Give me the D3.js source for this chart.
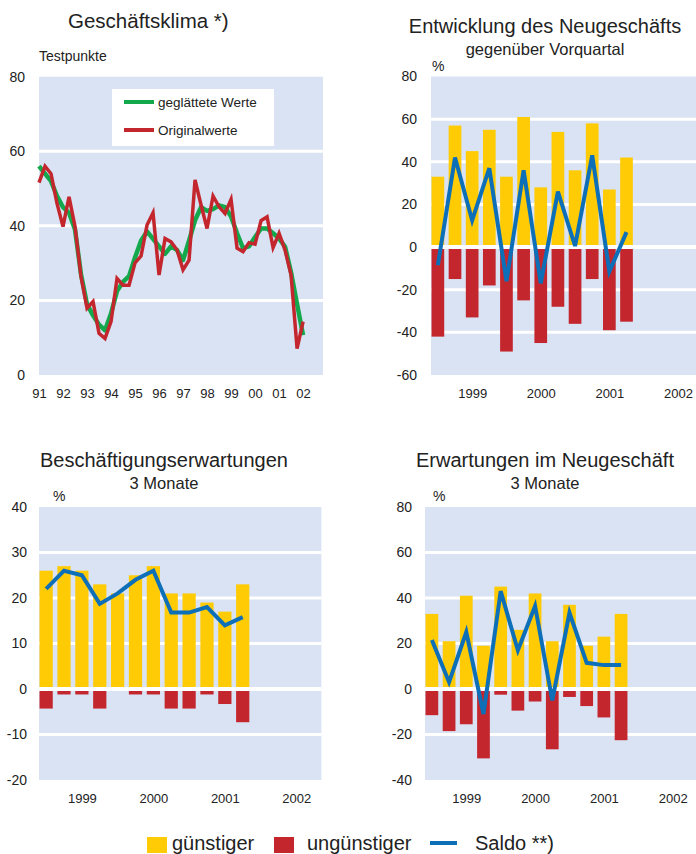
<!DOCTYPE html>
<html>
<head>
<meta charset="utf-8">
<script src="https://cdn.jsdelivr.net/npm/d3@7"></script>
<style>
  body { margin: 0; background: #fff; }
  svg text { font-family: "Liberation Sans", Arial, sans-serif; fill: #222; }
</style>
</head>
<body>
<svg width="696" height="854"></svg>
<script>
// Geschäftsklima, quarterly 1991Q1 .. 2002Q1
const klimaOriginal = [51.6, 56, 54, 46, 39.8, 47.8, 39.8, 26.4, 17.9, 19.7, 11.2, 9.8, 14.3, 25.9, 24.1, 24.1,
  30.1, 31.9, 40.2, 43.5, 26.8, 36.6, 35.7, 33.5, 28.2, 30.8, 52.3, 45.6, 39.3, 48, 45.1, 43.3,
  47.1, 34, 33.1, 35.5, 35.1, 41.4, 42.4, 34.2, 38, 33.5, 26.8, 7.1, 14.3];
const klimaGeglaettet = [56, 54, 52, 48, 45, 43.5, 39, 27, 19, 16, 13.5, 12, 16.5, 22.5, 25, 26.5,
  31.5, 36, 38.5, 36.5, 34.5, 32.5, 34.5, 33.5, 30.8, 36, 41.5, 45, 44, 44.5, 45.5, 45,
  42.5, 38, 34, 34.5, 37, 39.3, 39.3, 38, 36.6, 34.4, 27.5, 19, 10.7];
const klimaJahre = ['91','92','93','94','95','96','97','98','99','00','01','02'];

// quarterly survey panels (12 quarters)
const jahre = ['1999', '2000', '2001', '2002'];

const neuGuenstig = [33, 57, 45, 55, 33, 61, 28, 54, 36, 58, 27, 42];
const neuUnguenstig = [-42, -15, -33, -18, -49, -25, -45, -28, -36, -15, -39, -35];
const neuSaldo = [-8.5, 42, 12.5, 37, -16, 36, -17, 26, 0.5, 43, -11.5, 7];

const beschGuenstig = [26, 27, 26, 23, 21, 25, 27, 21, 21, 19, 17, 23];
const beschUnguenstig = [-4.3, -1.2, -1.2, -4.3, 0, -1.2, -1.2, -4.3, -4.3, -1.2, -3.3, -7.3];
const beschSaldo = [22, 26, 25, 18.7, 21, 24, 26, 16.8, 16.8, 18, 14, 15.8];

const erwGuenstig = [33, 21, 41, 19, 45, 26, 42, 21, 37, 19, 23, 33];
const erwUnguenstig = [-11.5, -18.5, -15.5, -30.5, -2.5, -9.5, -5.5, -26.5, -3.5, -7.5, -12.5, -22.5];
const erwSaldo = [21.5, 3, 25, -11, 43, 17, 36.5, -5, 33.5, 11.5, 10.5, 10.5];

const col = {
  bg: '#d9e3f3', gelb: '#ffcb05', rot: '#c4262e', blau: '#0d6fb8', gruen: '#12a84b'
};

const svg = d3.select('svg');

function hintergrund(g, x0, x1, y) {
  g.append('rect')
    .attr('x', x0).attr('y', y.range()[1])
    .attr('width', x1 - x0).attr('height', y.range()[0] - y.range()[1])
    .attr('fill', col.bg);
}

function gitter(g, x0, x1, y, werte, breite) {
  g.selectAll(null).data(werte).enter().append('line')
    .attr('x1', x0).attr('x2', x1)
    .attr('y1', d => y(d)).attr('y2', d => y(d))
    .attr('stroke', '#fff').attr('stroke-width', breite);
}

function yAchse(g, y, ticks, xPos) {
  const ax = g.append('g')
    .attr('transform', `translate(${xPos},0)`)
    .call(d3.axisLeft(y).tickValues(ticks).tickSize(0).tickPadding(0)
      .tickFormat(d => String(d)));   // plain hyphen like the original
  ax.select('.domain').remove();
  ax.selectAll('text').attr('font-size', 14).attr('fill', '#222')
    .attr('font-family', '"Liberation Sans", Arial, sans-serif');
}

function xAchse(g, x, ticks, labels, yPos) {
  const ax = g.append('g')
    .attr('transform', `translate(0,${yPos})`)
    .call(d3.axisBottom(x).tickValues(ticks).tickSize(0).tickPadding(0)
      .tickFormat((d, i) => labels[i]));
  ax.select('.domain').remove();
  ax.selectAll('text').attr('font-size', 13).attr('fill', '#222')
    .attr('font-family', '"Liberation Sans", Arial, sans-serif');
}

function titel(text, x, y, size) {
  svg.append('text').attr('x', x).attr('y', y)
    .attr('text-anchor', 'middle').attr('font-size', size).text(text);
}

// ---------- Geschäftsklima ----------
{
  const g = svg.append('g');
  const x = d3.scaleLinear().domain([1991, 2002.83]).range([39, 323]);
  const y = d3.scaleLinear().domain([0, 80]).range([375, 76.7]);
  hintergrund(g, 39, 323, y);
  gitter(g, 39, 324, y, [20, 40, 60], 3);
  yAchse(g, y, [0, 20, 40, 60, 80], 25);
  xAchse(g, x, d3.range(1991, 2003), klimaJahre, 389);

  const line = d3.line()
    .x((d, i) => x(1991 + i * 0.25))
    .y(d => y(d));
  g.append('path').datum(klimaGeglaettet).attr('d', line)
    .attr('fill', 'none').attr('stroke', col.gruen).attr('stroke-width', 4.5)
    .attr('stroke-linejoin', 'round');
  g.append('path').datum(klimaOriginal).attr('d', line)
    .attr('fill', 'none').attr('stroke', col.rot).attr('stroke-width', 3.5)
    .attr('stroke-linejoin', 'miter');

  // legend
  g.append('rect').attr('x', 112).attr('y', 89).attr('width', 162).attr('height', 57).attr('fill', '#fff');
  const leg = [['geglättete Werte', col.gruen, 102], ['Originalwerte', col.rot, 130]];
  leg.forEach(([t, c, yy]) => {
    g.append('line').attr('x1', 124).attr('x2', 154).attr('y1', yy).attr('y2', yy)
      .attr('stroke', c).attr('stroke-width', 4);
    g.append('text').attr('x', 158).attr('y', yy + 5).attr('font-size', 13.5).text(t);
  });

  svg.append('text').attr('x', 68).attr('y', 28).attr('font-size', 20.5).text('Geschäftsklima *)');
  svg.append('text').attr('x', 39).attr('y', 61).attr('font-size', 14).text('Testpunkte');
}

// ---------- bar panels ----------
function balkenPanel(opt) {
  const g = svg.append('g');
  const x = d3.scaleLinear().domain([-0.4, 15.4]).range([opt.x0, opt.x0 + 15.8 * opt.step]);
  const y = d3.scaleLinear().domain(opt.yDom).range(opt.yRange);
  const bw = opt.step * 0.74;
  const x1 = Math.min(696, x.range()[1]);

  hintergrund(g, opt.x0, x1, y);
  gitter(g, opt.x0, x1, y, opt.yTicks.filter(d => d !== 0 && d !== opt.yDom[0] && d !== opt.yDom[1]), 3);

  g.selectAll('rect.pos').data(opt.pos).enter().append('rect')
    .attr('class', 'pos')
    .attr('x', (d, i) => x(i) - bw / 2).attr('width', bw)
    .attr('y', d => y(d)).attr('height', d => y(0) - y(d))
    .attr('fill', col.gelb);
  g.selectAll('rect.neg').data(opt.neg).enter().append('rect')
    .attr('class', 'neg')
    .attr('x', (d, i) => x(i) - bw / 2).attr('width', bw)
    .attr('y', y(0)).attr('height', d => y(d) - y(0))
    .attr('fill', col.rot);

  gitter(g, opt.x0, x1, y, [0], 4);

  g.append('path').datum(opt.saldo)
    .attr('d', d3.line().x((d, i) => x(i)).y(d => y(d)))
    .attr('fill', 'none').attr('stroke', col.blau).attr('stroke-width', 4);

  yAchse(g, y, opt.yTicks, opt.yLab);
  xAchse(g, x, [2, 6, 10, 14], jahre, opt.xLab);

  titel(opt.titel, opt.tx, opt.ty, 20);
  titel(opt.sub, opt.tx, opt.ty + 22, 16.5);
  svg.append('text').attr('x', opt.px).attr('y', opt.py).attr('font-size', 14).text('%');
}

balkenPanel({
  x0: 431, step: 17.15, yDom: [-60, 80], yRange: [375, 76.5],
  yTicks: [-60, -40, -20, 0, 20, 40, 60, 80], yLab: 417, xLab: 389,
  pos: neuGuenstig, neg: neuUnguenstig, saldo: neuSaldo,
  titel: 'Entwicklung des Neugeschäfts', sub: 'gegenüber Vorquartal', tx: 545, ty: 33, px: 432, py: 71
});

balkenPanel({
  x0: 39, step: 17.87, yDom: [-20, 40], yRange: [780, 507],
  yTicks: [-20, -10, 0, 10, 20, 30, 40], yLab: 27, xLab: 794,
  pos: beschGuenstig, neg: beschUnguenstig, saldo: beschSaldo,
  titel: 'Beschäftigungserwartungen', sub: '3 Monate', tx: 164, ty: 467, px: 53, py: 501
});

balkenPanel({
  x0: 425, step: 17.2, yDom: [-40, 80], yRange: [780, 507],
  yTicks: [-40, -20, 0, 20, 40, 60, 80], yLab: 412, xLab: 794,
  pos: erwGuenstig, neg: erwUnguenstig, saldo: erwSaldo,
  titel: 'Erwartungen im Neugeschäft', sub: '3 Monate', tx: 545, ty: 467, px: 433, py: 501
});

// ---------- shared legend ----------
{
  const g = svg.append('g').attr('font-size', 20);
  g.append('rect').attr('x', 147).attr('y', 837).attr('width', 20).attr('height', 16).attr('fill', col.gelb);
  g.append('text').attr('x', 172).attr('y', 850).attr('font-size', 20).text('günstiger');
  g.append('rect').attr('x', 274).attr('y', 837).attr('width', 20).attr('height', 16).attr('fill', col.rot);
  g.append('text').attr('x', 307).attr('y', 850).attr('font-size', 20).text('ungünstiger');
  g.append('line').attr('x1', 430).attr('x2', 457).attr('y1', 843).attr('y2', 843)
    .attr('stroke', col.blau).attr('stroke-width', 4);
  g.append('text').attr('x', 475).attr('y', 850).attr('font-size', 20).text('Saldo **)');
}
</script>
</body>
</html>
